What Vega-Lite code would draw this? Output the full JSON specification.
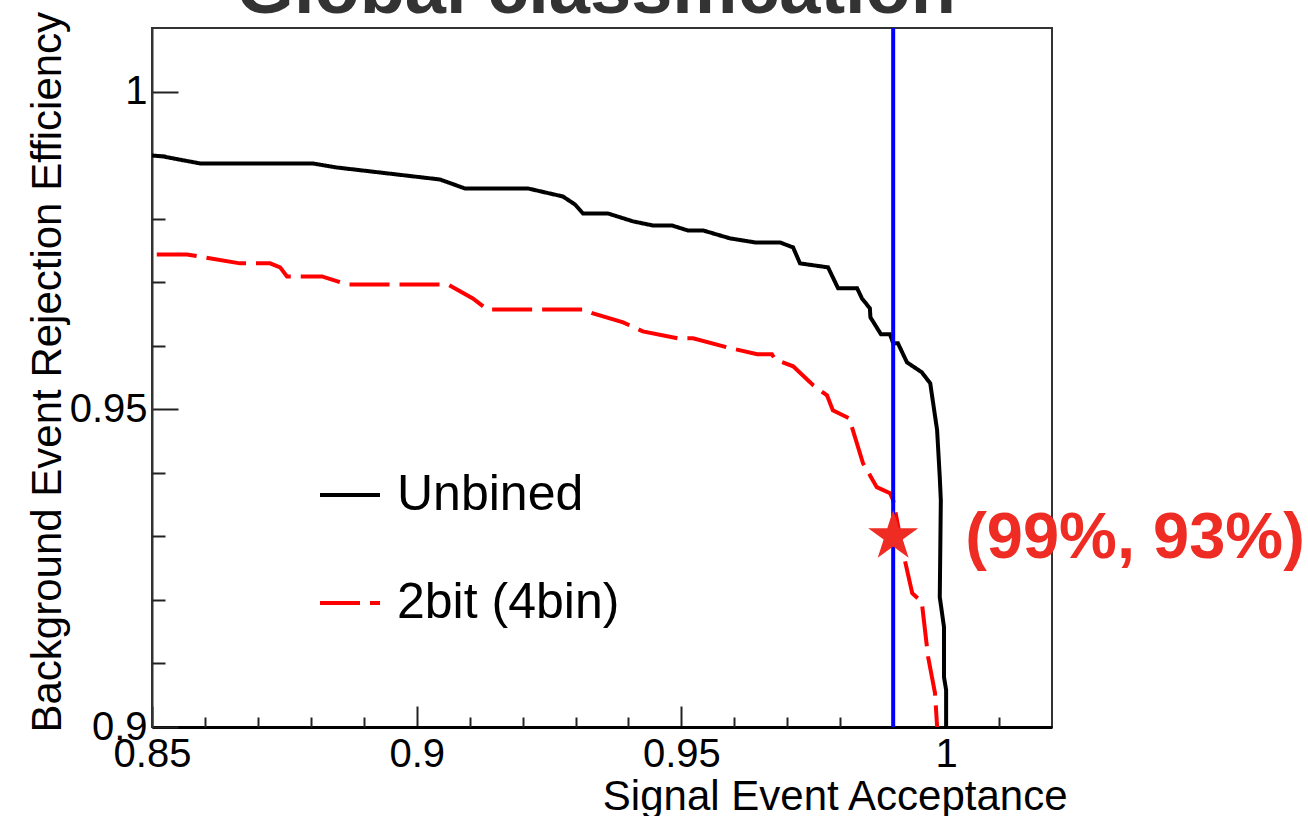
{
  "$schema": "https://vega.github.io/schema/vega-lite/v6.json",
  "width": 900,
  "height": 699,
  "autosize": {"type": "none"},
  "padding": {"left": 152, "top": 28, "right": 256, "bottom": 89},
  "background": "white",
  "config": {
    "font": "Liberation Sans",
    "view": {"stroke": "#333333", "strokeWidth": 2},
    "axis": {"grid": false, "labelFont": "Liberation Sans", "titleFont": "Liberation Sans", "labelColor": "black", "titleColor": "black", "tickColor": "#222222", "tickWidth": 2}
  },
  "datasets": {
    "roc": [
      {"series": "Unbined", "acceptance": 0.85, "rejection": 0.98994},
      {"series": "Unbined", "acceptance": 0.8521, "rejection": 0.98978},
      {"series": "Unbined", "acceptance": 0.8591, "rejection": 0.98868},
      {"series": "Unbined", "acceptance": 0.8804, "rejection": 0.98868},
      {"series": "Unbined", "acceptance": 0.8849, "rejection": 0.98805},
      {"series": "Unbined", "acceptance": 0.9044, "rejection": 0.98616},
      {"series": "Unbined", "acceptance": 0.9091, "rejection": 0.98475},
      {"series": "Unbined", "acceptance": 0.921, "rejection": 0.98475},
      {"series": "Unbined", "acceptance": 0.9276, "rejection": 0.98349},
      {"series": "Unbined", "acceptance": 0.9299, "rejection": 0.98223},
      {"series": "Unbined", "acceptance": 0.9314, "rejection": 0.98082},
      {"series": "Unbined", "acceptance": 0.9361, "rejection": 0.98082},
      {"series": "Unbined", "acceptance": 0.9409, "rejection": 0.97956},
      {"series": "Unbined", "acceptance": 0.9446, "rejection": 0.97893},
      {"series": "Unbined", "acceptance": 0.9482, "rejection": 0.97893},
      {"series": "Unbined", "acceptance": 0.9512, "rejection": 0.97814},
      {"series": "Unbined", "acceptance": 0.9541, "rejection": 0.97814},
      {"series": "Unbined", "acceptance": 0.9592, "rejection": 0.97689},
      {"series": "Unbined", "acceptance": 0.9639, "rejection": 0.97626},
      {"series": "Unbined", "acceptance": 0.9686, "rejection": 0.97626},
      {"series": "Unbined", "acceptance": 0.9711, "rejection": 0.97547},
      {"series": "Unbined", "acceptance": 0.9724, "rejection": 0.97296},
      {"series": "Unbined", "acceptance": 0.9777, "rejection": 0.97233},
      {"series": "Unbined", "acceptance": 0.9796, "rejection": 0.96903},
      {"series": "Unbined", "acceptance": 0.9832, "rejection": 0.96903},
      {"series": "Unbined", "acceptance": 0.9841, "rejection": 0.96745},
      {"series": "Unbined", "acceptance": 0.9856, "rejection": 0.96588},
      {"series": "Unbined", "acceptance": 0.9857, "rejection": 0.96447},
      {"series": "Unbined", "acceptance": 0.9877, "rejection": 0.96179},
      {"series": "Unbined", "acceptance": 0.9894, "rejection": 0.96179},
      {"series": "Unbined", "acceptance": 0.99, "rejection": 0.96038},
      {"series": "Unbined", "acceptance": 0.9909, "rejection": 0.96038},
      {"series": "Unbined", "acceptance": 0.9926, "rejection": 0.95739},
      {"series": "Unbined", "acceptance": 0.9954, "rejection": 0.95582},
      {"series": "Unbined", "acceptance": 0.997, "rejection": 0.95409},
      {"series": "Unbined", "acceptance": 0.9983, "rejection": 0.9467},
      {"series": "Unbined", "acceptance": 0.9988, "rejection": 0.93931},
      {"series": "Unbined", "acceptance": 0.999, "rejection": 0.93569},
      {"series": "Unbined", "acceptance": 0.9988, "rejection": 0.92044},
      {"series": "Unbined", "acceptance": 0.9996, "rejection": 0.91572},
      {"series": "Unbined", "acceptance": 0.9996, "rejection": 0.90786},
      {"series": "Unbined", "acceptance": 1.0, "rejection": 0.90582},
      {"series": "Unbined", "acceptance": 1.0, "rejection": 0.9},
      {"series": "2bit (4bin)", "acceptance": 0.8509, "rejection": 0.97437},
      {"series": "2bit (4bin)", "acceptance": 0.8566, "rejection": 0.97437},
      {"series": "2bit (4bin)", "acceptance": 0.8666, "rejection": 0.97296},
      {"series": "2bit (4bin)", "acceptance": 0.8723, "rejection": 0.97296},
      {"series": "2bit (4bin)", "acceptance": 0.8742, "rejection": 0.97233},
      {"series": "2bit (4bin)", "acceptance": 0.8755, "rejection": 0.97091},
      {"series": "2bit (4bin)", "acceptance": 0.8821, "rejection": 0.97091},
      {"series": "2bit (4bin)", "acceptance": 0.8868, "rejection": 0.96965},
      {"series": "2bit (4bin)", "acceptance": 0.9059, "rejection": 0.96965},
      {"series": "2bit (4bin)", "acceptance": 0.9106, "rejection": 0.96745},
      {"series": "2bit (4bin)", "acceptance": 0.9133, "rejection": 0.96572},
      {"series": "2bit (4bin)", "acceptance": 0.9314, "rejection": 0.96572},
      {"series": "2bit (4bin)", "acceptance": 0.9333, "rejection": 0.96509},
      {"series": "2bit (4bin)", "acceptance": 0.939, "rejection": 0.96368},
      {"series": "2bit (4bin)", "acceptance": 0.9427, "rejection": 0.96226},
      {"series": "2bit (4bin)", "acceptance": 0.9494, "rejection": 0.96116},
      {"series": "2bit (4bin)", "acceptance": 0.9522, "rejection": 0.96116},
      {"series": "2bit (4bin)", "acceptance": 0.9586, "rejection": 0.95975},
      {"series": "2bit (4bin)", "acceptance": 0.9643, "rejection": 0.95865},
      {"series": "2bit (4bin)", "acceptance": 0.9671, "rejection": 0.95865},
      {"series": "2bit (4bin)", "acceptance": 0.9677, "rejection": 0.95786},
      {"series": "2bit (4bin)", "acceptance": 0.9711, "rejection": 0.95676},
      {"series": "2bit (4bin)", "acceptance": 0.9749, "rejection": 0.95377},
      {"series": "2bit (4bin)", "acceptance": 0.9775, "rejection": 0.9522},
      {"series": "2bit (4bin)", "acceptance": 0.9786, "rejection": 0.94984},
      {"series": "2bit (4bin)", "acceptance": 0.9817, "rejection": 0.94858},
      {"series": "2bit (4bin)", "acceptance": 0.9843, "rejection": 0.94151},
      {"series": "2bit (4bin)", "acceptance": 0.9869, "rejection": 0.93774},
      {"series": "2bit (4bin)", "acceptance": 0.9894, "rejection": 0.93679},
      {"series": "2bit (4bin)", "acceptance": 0.99, "rejection": 0.93569},
      {"series": "2bit (4bin)", "acceptance": 0.9919, "rejection": 0.92736},
      {"series": "2bit (4bin)", "acceptance": 0.9936, "rejection": 0.92107},
      {"series": "2bit (4bin)", "acceptance": 0.9954, "rejection": 0.91965},
      {"series": "2bit (4bin)", "acceptance": 0.9966, "rejection": 0.91101},
      {"series": "2bit (4bin)", "acceptance": 0.9979, "rejection": 0.90535},
      {"series": "2bit (4bin)", "acceptance": 0.9983, "rejection": 0.9}
    ],
    "working_point": [
      {"acceptance": 0.99, "rejection": 0.93, "label": "(99%, 93%)"}
    ],
    "heading": [
      {"text": "Global classification"}
    ]
  },
  "layer": [
    {
      "data": {"name": "roc"},
      "mark": {"type": "line", "strokeWidth": 4, "clip": true},
      "encoding": {
        "x": {
          "field": "acceptance",
          "type": "quantitative",
          "scale": {"domain": [0.85, 1.02], "nice": false, "zero": false},
          "axis": {
            "values": [0.85, 0.9, 0.95, 1.0],
            "format": "~g",
            "tickSize": -21,
            "labelPadding": 28,
            "labelFontSize": 40,
            "labelFlush": false,
            "domainColor": "black",
            "domainWidth": 3,
            "title": "Signal Event Acceptance",
            "titleFontSize": 42,
            "titleFontWeight": "normal",
            "titleAlign": "right",
            "titleAnchor": null,
            "titleBaseline": "alphabetic",
            "titleX": 915,
            "titleY": 82
          }
        },
        "y": {
          "field": "rejection",
          "type": "quantitative",
          "scale": {"domain": [0.9, 1.01], "nice": false, "zero": false},
          "axis": {
            "values": [0.9, 0.95, 1.0],
            "format": "~g",
            "tickSize": -26,
            "labelPadding": 31,
            "labelFontSize": 40,
            "labelFlush": false,
            "domainColor": "#333333",
            "domainWidth": 2,
            "title": "Background Event Rejection Efficiency",
            "titleFontSize": 42,
            "titleFontWeight": "normal",
            "titleAngle": 270,
            "titleAlign": "left",
            "titleAnchor": null,
            "titleBaseline": "alphabetic",
            "titleX": -92,
            "titleY": 704
          }
        },
        "color": {
          "field": "series",
          "type": "nominal",
          "scale": {"domain": ["Unbined", "2bit (4bin)"], "range": ["#000000", "#ff0000"]},
          "legend": {
            "title": null,
            "orient": "none",
            "legendX": 166,
            "legendY": 435,
            "padding": 0,
            "symbolType": "stroke",
            "symbolSize": 3600,
            "symbolStrokeWidth": 4,
            "labelFontSize": 50,
            "labelFont": "Liberation Sans",
            "labelColor": "black",
            "labelOffset": 15,
            "labelLimit": 0,
            "rowPadding": 51
          }
        },
        "strokeDash": {
          "field": "series",
          "type": "nominal",
          "scale": {"domain": ["Unbined", "2bit (4bin)"], "range": [[1, 0], [40, 10]]},
          "legend": {
            "title": null,
            "orient": "none",
            "legendX": 166,
            "legendY": 435,
            "padding": 0,
            "symbolType": "stroke",
            "symbolSize": 3600,
            "symbolStrokeWidth": 4,
            "labelFontSize": 50,
            "labelFont": "Liberation Sans",
            "labelColor": "black",
            "labelOffset": 15,
            "labelLimit": 0,
            "rowPadding": 51
          }
        },
        "order": {"value": null}
      }
    },
    {
      "data": {"name": "working_point"},
      "mark": {"type": "rule", "color": "#0000ff", "strokeWidth": 4},
      "encoding": {
        "x": {"field": "acceptance", "type": "quantitative", "scale": {"domain": [0.85, 1.02], "nice": false, "zero": false}, "axis": null}
      }
    },
    {
      "data": {"name": "working_point"},
      "mark": {
        "type": "point",
        "shape": "M0,-1L0.2245,-0.309L0.951,-0.309L0.363,0.118L0.588,0.809L0,0.382L-0.588,0.809L-0.363,0.118L-0.951,-0.309L-0.2245,-0.309Z",
        "size": 2766,
        "filled": true,
        "color": "#ee2c24",
        "opacity": 1
      },
      "encoding": {
        "x": {
          "field": "acceptance",
          "type": "quantitative",
          "scale": {"domain": [0.85, 1.02], "nice": false, "zero": false},
          "axis": {
            "orient": "bottom",
            "values": [0.86, 0.87, 0.88, 0.89, 0.91, 0.92, 0.93, 0.94, 0.96, 0.97, 0.98, 0.99, 1.01],
            "tickSize": -10,
            "labels": false,
            "domain": false,
            "title": null
          }
        },
        "y": {
          "field": "rejection",
          "type": "quantitative",
          "scale": {"domain": [0.9, 1.01], "nice": false, "zero": false},
          "axis": {
            "orient": "left",
            "values": [0.91, 0.92, 0.93, 0.94, 0.96, 0.97, 0.98, 0.99],
            "tickSize": -13,
            "labels": false,
            "domain": false,
            "title": null
          }
        }
      }
    },
    {
      "data": {"name": "working_point"},
      "mark": {
        "type": "text",
        "font": "Liberation Sans",
        "fontSize": 65,
        "fontWeight": "bold",
        "color": "#ee2c24",
        "align": "left",
        "baseline": "alphabetic",
        "dx": 72,
        "dy": 22
      },
      "encoding": {
        "x": {"field": "acceptance", "type": "quantitative", "scale": {"domain": [0.85, 1.02], "nice": false, "zero": false}, "axis": null},
        "y": {"field": "rejection", "type": "quantitative", "scale": {"domain": [0.9, 1.01], "nice": false, "zero": false}, "axis": null},
        "text": {"field": "label"}
      }
    },
    {
      "data": {"name": "heading"},
      "mark": {
        "type": "text",
        "font": "Liberation Sans",
        "fontSize": 74,
        "fontWeight": "bold",
        "color": "#333333",
        "align": "center",
        "baseline": "alphabetic",
        "clip": false
      },
      "encoding": {
        "x": {"datum": 0.9339, "type": "quantitative", "scale": {"domain": [0.85, 1.02], "nice": false, "zero": false}, "axis": null},
        "y": {"datum": 1.0123, "type": "quantitative", "scale": {"domain": [0.9, 1.01], "nice": false, "zero": false}, "axis": null},
        "text": {"field": "text"}
      }
    }
  ],
  "resolve": {"axis": {"x": "independent", "y": "independent"}}
}
